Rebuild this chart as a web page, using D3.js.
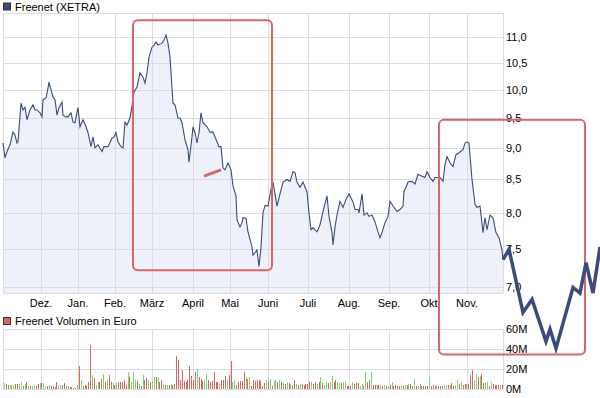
<!DOCTYPE html>
<meta charset="utf-8">
<head>
  <style>
    body { margin: 0; background: #fff; }
    svg { display: block; font-family: "Liberation Sans", Arial, sans-serif; }
    .grid { stroke: #dcdcdc; stroke-width: 1; shape-rendering: crispEdges; }
    .lbl { font-size: 11px; fill: #000; }
  </style>
</head>
<body>
  <div class="chart"></div>

  <script src="https://d3js.org/d3.v7.min.js"></script>
  <script>
    // Kursdaten (Handelstag-Index, Schlusskurs)
    var sessions = [0,1,2,3.5,5,6,7,7.5,9,10,11,12,13.5,15,16,17,18.5,19.5,20,21.5,
      22.5,23,24,25,26,27,28,29.5,30,31.5,32.5,34,35,36,37.5,38.5,40,41.5,42.5,44,
      45,46,47.5,49.5,50.5,52.5,54.5,55.5,56.5,57.5,59,60,61,62,63.5,64.5,65.5,67,68.5,70,
      71,72,73,74.5,75.5,76.5,77.5,79.5,80.5,81.5,82.5,83.5,84.5,85,86,87.5,88.5,89.5,91,92.5,
      93,94.5,95,96,97,98,99,100,102,103.5,105,107,108,109,110,111,112.5,114,115,116.5,
      117,118.5,119.5,120,121.5,122.5,124.5,125,127,128,129,130,131,132.5,134,135,137,138.5,140,142,
      143.5,145,146,147,148.5,150,152,153,154,155,157,158.5,160,162,163,164.5,165,166,167,168.5,
      170,171.5,173,175,176,177.5,178,179.5,180.5,182,183,184.5,186,187.5,188.5,189.5,191,192.5,193.5,195,
      197,198.5,200,200.5,201.5,202.5,204.5,206,207.5,209.5,211,212,213.5,215,216,217,218.5,220,221,222,
      223.5,225,226.5,228,230,231,232,233,234.5,236,237,238.5,240,241,242,243.5,245,246.5,248,249.5,250];
    var closes = [9.08,8.84,8.94,9.05,9.26,9.21,9.08,9.10,9.76,9.64,9.69,9.47,9.64,9.73,9.64,9.64,9.59,9.52,9.82,9.85,
      10.03,10.14,10.00,9.87,9.82,9.55,9.68,9.78,9.55,9.52,9.52,9.59,9.43,9.42,9.68,9.35,9.47,9.35,9.25,9.02,
      9.18,9.00,9.05,8.94,9.02,9.02,9.16,9.18,9.25,9.10,9.02,9.00,9.43,9.38,9.50,9.71,9.96,10.05,10.31,10.23,
      10.12,10.31,10.61,10.80,10.84,10.90,10.84,10.88,10.94,11.04,10.88,10.61,10.03,9.76,9.73,9.50,9.50,9.42,9.13,8.97,
      8.77,9.18,9.35,9.25,9.08,9.25,9.59,9.42,9.35,9.26,9.26,9.10,9.02,9.02,8.68,8.65,8.76,8.65,8.40,8.25,
      7.90,7.80,7.86,7.93,7.92,7.73,7.52,7.41,7.48,7.26,7.52,8.00,8.11,8.10,8.35,8.46,8.10,8.28,8.46,8.50,
      8.47,8.62,8.61,8.46,8.38,8.46,8.31,8.00,7.76,7.79,7.73,7.83,8.02,8.25,7.95,7.72,7.55,7.80,7.97,8.17,
      8.08,8.20,8.28,8.16,8.05,8.05,8.00,8.28,7.97,8.00,7.95,7.97,7.87,7.73,7.65,7.72,7.86,7.95,8.17,8.10,
      8.02,8.05,8.10,8.32,8.38,8.46,8.47,8.43,8.58,8.55,8.53,8.62,8.53,8.47,8.53,8.53,8.53,8.47,8.73,8.86,
      8.76,8.70,8.89,8.92,8.97,9.08,9.10,9.08,8.50,8.13,8.08,8.10,7.72,7.93,7.76,7.97,7.93,7.72,7.65,7.48,7.35];

    // handgezeichnete Prognose (dicke Linie)
    var fcSessions = [250, 253, 260, 264.5, 271.5, 273.5, 276.5, 285, 288.5, 291.5, 295, 298.5];
    var fcPrices = [7.35, 7.49, 6.68, 6.84, 6.34, 6.48, 6.26, 6.99, 6.92, 7.31, 6.92, 7.52];

    // Monate (Position als Handelstag)
    var months = ["Dez.", "Jan.", "Feb.", "März", "April", "Mai", "Juni", "Juli", "Aug.", "Sep.", "Okt", "Nov."];
    var monthSessions = [19, 37.5, 56, 74.5, 95, 113.5, 132.5, 152.5, 173, 193, 213, 232];

    var priceTicks = [7, 7.5, 8, 8.5, 9, 9.5, 10, 10.5, 11];
    var volTicks = [0, 20, 40, 60];

    // Umsatz in Mio. Euro, Richtung: g = steigend, r = fallend, n = neutral
    var volumes = [6,5,4.3,4.3,4.3,4.3,5,5.3,5.3,7,3.3,4.7,7.3,3.3,3.3,3.3,4.3,3.3,5.3,6.3,
      6,6.3,3.3,3.3,4.3,3.3,3.3,2.3,7.3,2.7,3.7,4.3,6.3,2.7,3.3,2.3,2.3,1.3,1.3,3.7,
      22.7,9.3,2.7,4.3,3.3,6.7,44.3,14.3,11.3,4.3,7.3,7.3,10.3,15.3,7.3,9.3,14.3,7.3,6,4.3,
      6,6.7,6.7,6.7,9.3,4.3,17.3,12.3,6.7,17.3,9.3,7.7,5.3,2.7,14.3,8.7,11.3,9.3,7.3,7.7,
      12.3,12.3,12.3,6.7,8.7,5.3,4.3,4,4.3,5.3,4.3,5.3,32.7,29.3,9.3,19.3,8.3,6.7,8.7,23.3,
      13.3,9.3,16.7,20,12,10,8,9.3,15.3,8.7,7.3,7.7,16.7,6.7,6.7,5.3,8.7,9.3,12.7,9.3,
      14.3,28.3,6.7,9.3,4.3,6.7,8,7.7,17.3,12,10,12,3.3,8.7,8,9.3,9.3,8,
      3.3,6,9.3,8.3,10.3,2.7,7.7,8.7,7,8.7,6.7,6,4.7,6.7,6,5,4,8.7,5.3,4,
      4.7,4.7,4,4.7,4.7,6.7,7,5,6.7,4.7,7,11.7,6,4.3,7.3,6,6.7,13.3,6.7,9.3,
      7,6,5.7,6.7,6.7,3.3,3.3,3.3,6.7,5.3,6,6,3.3,5.3,3.3,16.7,7.3,8.7,17.3,4.3,
      4,4.3,3.7,4,3.3,4,3.3,3.3,3.7,6.7,3.3,4.3,2.7,3.3,3.3,3.3,4.3,3.7,5,5,
      2.7,10.3,3.3,3.3,5.3,3.3,2.7,3.3,3.3,11.7,2.7,4,2.7,4.3,2.7,2.7,3.3,4.3,4.3,3.7,
      3.7,6,3.3,4.3,8.7,5.3,6.7,4.3,5,5.3,5,14.3,18.7,8.7,13.7,12,12.7,15,6,6.7,
      6.7,3.3,6.7,5,4,4.3,3.7,4.3,4.3];
    var volDirs = ("grrgggrrgg" + "rgrgrggrrg" + "rgnrgrrrrg" + "grrggrrrrg" + "rgrrrrrgrg" +
      "grrgrgrrgr" + "grrrrrgrgg" + "grgrgrrgrg" + "grgrrgrgrg" + "rrrrrrrrrr" +
      "rrrgrrrggr" + "rrrrrgrrrg" + "rrggrrrrrg" + "rgrrrrrr" +
      "rrgrgrggrg" + "rgrgrgrrgr" + "grrrrrgrrg" + "rgrggrggrr" + "ggrggrrrgr" +
      "rrgnrgrrgr" + "rrrgrgrgrg" + "rrrrgrgrgr" + "rgrggrrrrg" + "rrrgrrrggr" +
      "grrggrgrrg" + "rrrggrgrrg" + "grgrrrrgr").split("");

    var width = 600, height = 398;
    var navy = "#3b4c7c", red = "#dc6464", green = "#6cdc6c";

    var svg = d3.select(".chart").append("svg")
      .attr("width", width)
      .attr("height", height);

    var x = d3.scaleLinear().domain([0, 250]).range([3, 503]);
    var y = d3.scaleLog().domain([6.92, 11.49]).range([293, 13]);
    var vy = d3.scaleLinear().domain([0, 60]).range([389, 329]);
    var vx = d3.scaleLinear().domain([0, volumes.length - 1]).range([4, 502]);

    var fmt = function (v) { return d3.format(".1f")(v).replace(".", ","); };

    // Legende oben
    function legend(yy, col, label) {
      svg.append("rect").attr("x", 3.5).attr("y", yy - 3.5).attr("width", 7).attr("height", 7)
        .attr("fill", col).attr("stroke", "#333").attr("stroke-width", 1);
      svg.append("text").attr("class", "lbl").attr("x", 15).attr("y", yy + 4).text(label);
    }
    legend(6.5, navy, "Freenet (XETRA)");
    legend(321, red, "Freenet Volumen in Euro");

    // Flaeche unter dem Kurs
    var pts = d3.zip(sessions, closes);
    svg.append("path")
      .datum(pts)
      .attr("fill", "#eef1fa")
      .attr("d", d3.area()
        .x(function (d) { return x(d[0]); })
        .y0(293)
        .y1(function (d) { return y(d[1]); }));

    // Gitter Kurs
    var g = svg.append("g");
    g.selectAll(".hg").data(priceTicks).enter().append("line")
      .attr("class", "grid")
      .attr("x1", 3).attr("x2", 503)
      .attr("y1", function (d) { return Math.round(y(d)) + 0.5; })
      .attr("y2", function (d) { return Math.round(y(d)) + 0.5; });
    g.selectAll(".vg").data(monthSessions.concat([0, 250])).enter().append("line")
      .attr("class", "grid")
      .attr("x1", function (d) { return Math.round(x(d)) + 0.5; })
      .attr("x2", function (d) { return Math.round(x(d)) + 0.5; })
      .attr("y1", 13).attr("y2", 293);
    [13, 293].forEach(function (yy) {
      g.append("line").attr("class", "grid").attr("x1", 3).attr("x2", 503)
        .attr("y1", yy + 0.5).attr("y2", yy + 0.5);
    });

    // Gitter Volumen
    g.selectAll(".vhg").data(volTicks).enter().append("line")
      .attr("class", "grid")
      .attr("x1", 3).attr("x2", 503)
      .attr("y1", function (d) { return Math.round(vy(d)) + 0.5; })
      .attr("y2", function (d) { return Math.round(vy(d)) + 0.5; });
    g.selectAll(".vvg").data(monthSessions.concat([0, 250])).enter().append("line")
      .attr("class", "grid")
      .attr("x1", function (d) { return Math.round(x(d)) + 0.5; })
      .attr("x2", function (d) { return Math.round(x(d)) + 0.5; })
      .attr("y1", 329).attr("y2", 389);

    // Kurslinie
    svg.append("path")
      .datum(pts)
      .attr("fill", "none")
      .attr("stroke", navy)
      .attr("stroke-width", 1.1)
      .attr("d", d3.line()
        .x(function (d) { return x(d[0]); })
        .y(function (d) { return y(d[1]); }));

    // Volumenbalken
    svg.selectAll(".vol").data(volumes).enter().append("rect")
      .attr("x", function (d, i) { return Math.round(vx(i)); })
      .attr("width", 1)
      .attr("y", function (d) { return vy(d); })
      .attr("height", function (d) { return vy(0) - vy(d); })
      .attr("fill", function (d, i) {
        var c = volDirs[i];
        return c === "g" ? green : (c === "r" ? red : "#b4b4c8");
      })
      .attr("shape-rendering", "crispEdges");

    // Monatsbeschriftung
    svg.selectAll(".mon").data(months).enter().append("text")
      .attr("class", "lbl")
      .attr("x", function (d, i) { return x(monthSessions[i]); })
      .attr("y", 307)
      .attr("text-anchor", "middle")
      .text(function (d) { return d; });

    // Achsen rechts
    svg.selectAll(".pt").data(priceTicks).enter().append("text")
      .attr("class", "lbl")
      .attr("x", 506)
      .attr("y", function (d) { return y(d) + 4; })
      .text(fmt);
    svg.selectAll(".vt").data(volTicks).enter().append("text")
      .attr("class", "lbl")
      .attr("x", 506)
      .attr("y", function (d) { return vy(d) + 4; })
      .text(function (d) { return d + "M"; });

    // Markierungen (rote Rahmen)
    var boxes = [
      { s0: 65, s1: 134.5, p0: 11.34, p1: 7.21 },
      { s0: 218, s1: 291, p0: 9.47, p1: 6.19 }
    ];
    svg.selectAll(".box").data(boxes).enter().append("rect")
      .attr("x", function (d) { return x(d.s0); })
      .attr("y", function (d) { return y(d.p0); })
      .attr("width", function (d) { return x(d.s1) - x(d.s0); })
      .attr("height", function (d) { return y(d.p1) - y(d.p0); })
      .attr("rx", 5)
      .attr("fill", "none")
      .attr("stroke", red)
      .attr("stroke-width", 2);

    svg.append("line")
      .attr("x1", x(100.5)).attr("y1", y(8.55))
      .attr("x2", x(109)).attr("y2", y(8.65))
      .attr("stroke", red)
      .attr("stroke-width", 3);

    // dicke Prognoselinie
    svg.append("path")
      .datum(d3.zip(fcSessions, fcPrices))
      .attr("fill", "none")
      .attr("stroke", navy)
      .attr("stroke-width", 3.5)
      .attr("stroke-linejoin", "miter")
      .attr("d", d3.line()
        .x(function (d) { return x(d[0]); })
        .y(function (d) { return y(d[1]); }));
  </script>
</body>
